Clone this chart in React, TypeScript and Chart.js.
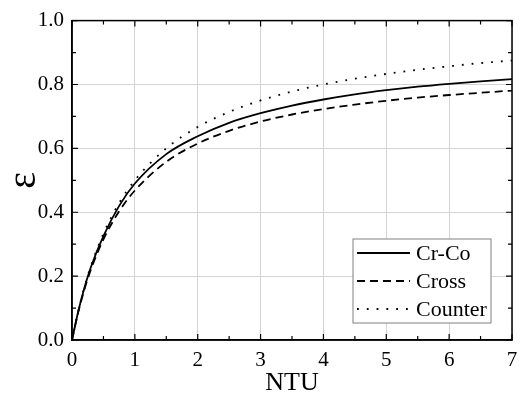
import React, { useEffect, useRef } from "react";
import { Chart, registerables } from "chart.js";

Chart.register(...registerables);

const NTU = [0, 0.1, 0.2, 0.3, 0.5, 0.75, 1, 1.5, 2, 2.5, 3, 3.5, 4, 4.5, 5, 5.5, 6, 6.5, 7];
const CR_CO = [0, 0.09, 0.165, 0.228, 0.325, 0.42, 0.49, 0.582, 0.638, 0.68, 0.71, 0.734, 0.753, 0.769, 0.782, 0.793, 0.802, 0.81, 0.817];
const CROSS = [0, 0.088, 0.16, 0.22, 0.315, 0.403, 0.468, 0.558, 0.615, 0.655, 0.684, 0.706, 0.723, 0.737, 0.749, 0.759, 0.767, 0.774, 0.781];
const COUNTER = [0, 0.091, 0.167, 0.231, 0.333, 0.429, 0.5, 0.6, 0.667, 0.714, 0.75, 0.778, 0.8, 0.818, 0.833, 0.846, 0.857, 0.867, 0.875];
const SERIES_LABELS = ["Cr-Co", "Cross", "Counter"];
const X_TICKS = [0, 1, 2, 3, 4, 5, 6, 7];
const Y_TICKS = [0, 0.2, 0.4, 0.6, 0.8, 1.0];

const FONT = "'Liberation Serif', 'Times New Roman', serif";

const frameTicksPlugin = {
  id: "frameTicks",
  afterDatasetsDraw(chart: any) {
    const { ctx, chartArea: a, scales } = chart;
    const xs = scales.x;
    const ys = scales.y;
    ctx.save();
    ctx.strokeStyle = "#000";
    ctx.lineWidth = 1.5;
    ctx.strokeRect(a.left, a.top, a.right - a.left, a.bottom - a.top);
    ctx.lineWidth = 1.2;
    ctx.beginPath();
    for (let i = 0; i <= 14; i++) {
      const v = i * 0.5;
      const px = xs.getPixelForValue(v);
      const len = i % 2 === 0 ? 6 : 4;
      ctx.moveTo(px, a.bottom);
      ctx.lineTo(px, a.bottom - len);
      ctx.moveTo(px, a.top);
      ctx.lineTo(px, a.top + len);
    }
    for (let i = 0; i <= 10; i++) {
      const v = i * 0.1;
      const py = ys.getPixelForValue(v);
      const len = i % 2 === 0 ? 6 : 4;
      ctx.moveTo(a.left, py);
      ctx.lineTo(a.left + len, py);
      ctx.moveTo(a.right, py);
      ctx.lineTo(a.right - len, py);
    }
    ctx.stroke();
    ctx.restore();
  },
};

const legendBoxPlugin = {
  id: "legendBox",
  afterDraw(chart: any) {
    const { ctx, chartArea: a } = chart;
    const w = 138;
    const h = 84;
    const right = a.right - 21;
    const bottom = a.bottom - 17;
    const left = right - w;
    const top = bottom - h;
    ctx.save();
    ctx.fillStyle = "#fff";
    ctx.fillRect(left, top, w, h);
    ctx.strokeStyle = "#808080";
    ctx.lineWidth = 1;
    ctx.strokeRect(left, top, w, h);
    ctx.font = `22px ${FONT}`;
    ctx.textBaseline = "middle";
    ctx.fillStyle = "#000";
    chart.data.datasets.forEach((ds: any, i: number) => {
      const y = top + 14 + i * 28;
      ctx.beginPath();
      ctx.setLineDash(ds.borderDash || []);
      ctx.lineWidth = ds.borderWidth;
      ctx.strokeStyle = ds.borderColor;
      ctx.lineCap = ds.borderCapStyle || "butt";
      ctx.moveTo(left + 4, y);
      ctx.lineTo(left + 57, y);
      ctx.stroke();
      ctx.setLineDash([]);
      ctx.fillText(ds.label, left + 63, y + 1);
    });
    ctx.restore();
  },
};

export default function App() {
  const ref = useRef<HTMLCanvasElement>(null);
  useEffect(() => {
    document.body.style.margin = "0";
    const mk = (arr: number[]) => NTU.map((x, i) => ({ x, y: arr[i] }));
    const chart = new Chart(ref.current!, {
      type: "line",
      data: {
        datasets: [
          {
            label: SERIES_LABELS[0],
            data: mk(CR_CO),
            borderColor: "#000",
            borderWidth: 1.8,
            pointRadius: 0,
            cubicInterpolationMode: "monotone",
            fill: false,
          },
          {
            label: SERIES_LABELS[1],
            data: mk(CROSS),
            borderColor: "#000",
            borderWidth: 1.8,
            borderDash: [8, 5],
            pointRadius: 0,
            cubicInterpolationMode: "monotone",
            fill: false,
          },
          {
            label: SERIES_LABELS[2],
            data: mk(COUNTER),
            borderColor: "#000",
            borderWidth: 1.8,
            borderDash: [1.8, 8],
            pointRadius: 0,
            cubicInterpolationMode: "monotone",
            fill: false,
          },
        ],
      } as any,
      options: {
        animation: false,
        responsive: false,
        maintainAspectRatio: false,
        layout: { padding: { left: 0, right: 17, top: 15, bottom: 0 } },
        plugins: { legend: { display: false }, tooltip: { enabled: false } },
        scales: {
          x: {
            type: "linear",
            min: 0,
            max: 7,
            afterBuildTicks: (s: any) => {
              s.ticks = X_TICKS.map((v) => ({ value: v }));
            },
            afterFit: (s: any) => {
              s.height = 59;
            },
            ticks: {
              color: "#000",
              font: { family: FONT, size: 21 },
              padding: 8,
              maxRotation: 0,
              callback: (v: any) => String(v),
            },
            grid: { color: "#d4d4d4", lineWidth: 1, drawTicks: false },
            border: { color: "#000", width: 1.5 },
            title: {
              display: true,
              text: "NTU",
              color: "#000",
              font: { family: FONT, size: 26 },
              padding: { top: 0, bottom: 0 },
            },
          },
          y: {
            type: "linear",
            min: 0,
            max: 1,
            afterBuildTicks: (s: any) => {
              s.ticks = Y_TICKS.map((v) => ({ value: v }));
            },
            afterFit: (s: any) => {
              s.width = 72;
            },
            ticks: {
              color: "#000",
              font: { family: FONT, size: 21 },
              padding: 8,
              callback: (v: any) => Number(v).toFixed(1),
            },
            grid: { color: "#d4d4d4", lineWidth: 1, drawTicks: false },
            border: { color: "#000", width: 1.5 },
            title: {
              display: true,
              text: "ε",
              color: "#000",
              font: { family: FONT, size: 40 },
              padding: { top: 0, bottom: 0 },
            },
          },
        },
      } as any,
      plugins: [frameTicksPlugin, legendBoxPlugin],
    });
    return () => chart.destroy();
  }, []);
  return (
    <div style={{ position: "relative", width: 529, height: 399 }}>
      <canvas ref={ref} width={529} height={399} style={{ display: "block" }} />
    </div>
  );
}
